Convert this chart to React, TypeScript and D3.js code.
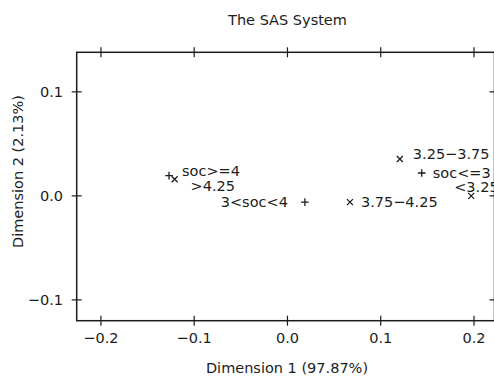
import React from "react";
import * as d3 from "d3";

// category points from the correspondence analysis
const labels = ["soc>=4", ">4.25", "3<soc<4", "3.75\u22124.25", "3.25\u22123.75", "soc<=3", "<3.25"];
const dim1 = [-0.127, -0.121, 0.0187, 0.067, 0.1205, 0.144, 0.197];
const dim2 = [0.0195, 0.016, -0.006, -0.006, 0.0355, 0.022, 0.0];
const markers = ["plus", "cross", "plus", "cross", "cross", "plus", "cross"];
// where each label sits next to its marker
const placement = ["ur", "dr", "l", "r", "ur", "r", "ul"];

const xTicks = [-0.2, -0.1, 0.0, 0.1, 0.2];
const yTicks = [-0.1, 0.0, 0.1];

const W = 494;
const H = 376;
const ink = "#1c1c1c";
const font = "DejaVu Sans";

const offsets: Record<string, [number, number, string]> = {
  ur: [13, -5, "start"],
  dr: [16, 7, "start"],
  l: [-17, 0, "end"],
  r: [11, 0, "start"],
  ul: [-17, -9, "start"],
};

const fmt = (v: number) => d3.format(".1f")(v).replace("-", "\u2212");

export default function App() {
  const x = d3.scaleLinear().domain([-0.226, 0.222]).range([76.7, 494.5]);
  const y = d3.scaleLinear().domain([-0.12, 0.138]).range([320.7, 52.3]);
  const [x0, x1] = x.range();
  const [yb, yt] = y.range();
  const tk = 5;

  return (
    <svg
      width={W}
      height={H}
      style={{ position: "absolute", left: 0, top: 0, background: "#fff" }}
      fontFamily={font}
    >
      <text x={287.5} y={20} dy="0.36em" textAnchor="middle" fontSize={14.5} fill={ink}>
        The SAS System
      </text>

      <rect x={x0} y={yt} width={x1 - x0} height={yb - yt} fill="none" stroke={ink} strokeWidth={1.5} />

      {xTicks.map((t) => (
        <g key={"x" + t}>
          <line x1={x(t)} x2={x(t)} y1={yt - tk} y2={yt + tk} stroke={ink} strokeWidth={1.2} />
          <line x1={x(t)} x2={x(t)} y1={yb - tk} y2={yb + tk} stroke={ink} strokeWidth={1.2} />
          <text x={x(t)} y={337.7} dy="0.36em" textAnchor="middle" fontSize={14.5} fill={ink}>
            {fmt(t)}
          </text>
        </g>
      ))}

      {yTicks.map((t) => (
        <g key={"y" + t}>
          <line x1={x0 - tk} x2={x0 + tk} y1={y(t)} y2={y(t)} stroke={ink} strokeWidth={1.2} />
          <line x1={x1 - tk} x2={x1 + tk} y1={y(t)} y2={y(t)} stroke={ink} strokeWidth={1.2} />
          <text x={63} y={y(t)} dy="0.36em" textAnchor="end" fontSize={14.5} fill={ink}>
            {fmt(t)}
          </text>
        </g>
      ))}

      <text x={287} y={367.5} dy="0.36em" textAnchor="middle" fontSize={14.5} fill={ink}>
        Dimension 1 (97.87%)
      </text>
      <text
        transform="translate(18,171.5) rotate(-90)"
        dy="0.36em"
        textAnchor="middle"
        fontSize={14.5}
        fill={ink}
      >
        Dimension 2 (2.13%)
      </text>

      {labels.map((lab, i) => {
        const px = x(dim1[i]);
        const py = y(dim2[i]);
        const s = markers[i] === "plus" ? 3.8 : 3;
        const d =
          markers[i] === "plus"
            ? `M${px - s},${py}H${px + s}M${px},${py - s}V${py + s}`
            : `M${px - s},${py - s}L${px + s},${py + s}M${px - s},${py + s}L${px + s},${py - s}`;
        const [dx, dy, anchor] = offsets[placement[i]];
        return (
          <g key={lab}>
            <path d={d} stroke={ink} strokeWidth={1.3} fill="none" />
            <text
              x={px + dx}
              y={py + dy}
              dy="0.36em"
              textAnchor={anchor}
              fontSize={14.5}
              fill={ink}
            >
              {lab}
            </text>
          </g>
        );
      })}
    </svg>
  );
}
